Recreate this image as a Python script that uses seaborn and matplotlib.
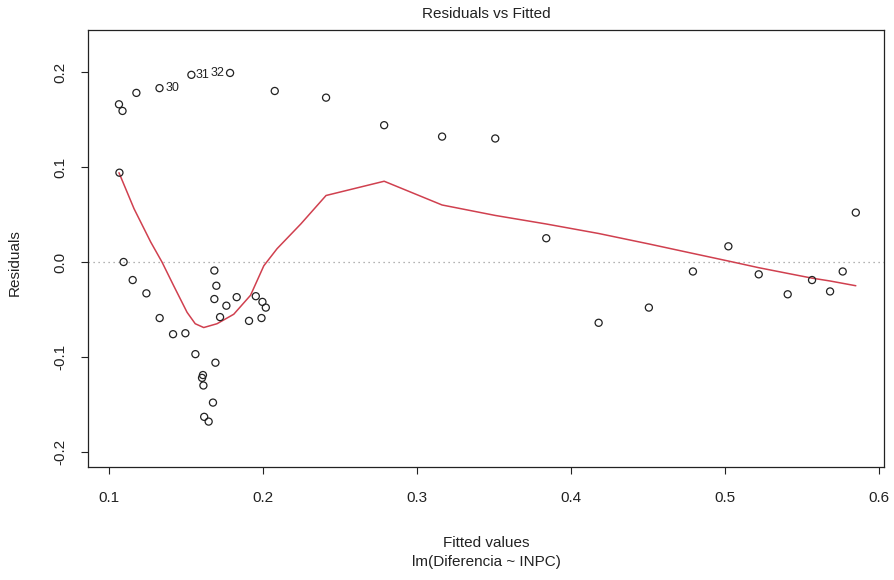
import matplotlib
matplotlib.use("Agg")
import matplotlib.pyplot as plt
import seaborn as sns
import numpy as np

# fitted values and residuals
fitted = [0.1067, 0.1070, 0.1090, 0.1097, 0.1156, 0.1180, 0.1245, 0.1331, 0.1330, 0.1418,
          0.1498, 0.1537, 0.1563, 0.1606, 0.1612, 0.1615, 0.1620, 0.1649, 0.1677, 0.1686,
          0.1686, 0.1693, 0.1699, 0.1723, 0.1764, 0.1788, 0.1831, 0.1911, 0.1955, 0.1992,
          0.1998, 0.2020, 0.2078, 0.2411, 0.2788, 0.3164, 0.3509, 0.3840, 0.4180, 0.4506,
          0.4792, 0.5022, 0.5219, 0.5407, 0.5565, 0.5682, 0.5764, 0.5849]
resid = [0.166, 0.094, 0.159, 0.000, -0.019, 0.178, -0.033, -0.059, 0.183, -0.076,
         -0.075, 0.197, -0.097, -0.122, -0.119, -0.130, -0.163, -0.168, -0.148, -0.009,
         -0.039, -0.106, -0.025, -0.058, -0.046, 0.199, -0.037, -0.062, -0.036, -0.059,
         -0.042, -0.048, 0.180, 0.173, 0.144, 0.132, 0.130, 0.025, -0.064, -0.048,
         -0.010, 0.0165, -0.013, -0.034, -0.019, -0.031, -0.010, 0.052]

# smoother (red line)
lowess_x = [0.1067, 0.1165, 0.1273, 0.1346, 0.1422, 0.1509, 0.1562, 0.1617, 0.1703, 0.1812,
            0.1921, 0.2007, 0.2093, 0.2247, 0.2411, 0.2788, 0.3164, 0.3509, 0.3840, 0.4180,
            0.4506, 0.4792, 0.5022, 0.5219, 0.5407, 0.5565, 0.5682, 0.5849]
lowess_y = [0.094, 0.056, 0.021, 0.000, -0.025, -0.053, -0.065, -0.069, -0.065, -0.055,
            -0.035, -0.004, 0.014, 0.040, 0.070, 0.085, 0.060, 0.049, 0.040, 0.030,
            0.019, 0.009, 0.001, -0.006, -0.012, -0.017, -0.020, -0.025]

# labelled observations: (index into fitted/resid, label, x offset pt, alignment)
id_points = [(8, "30", 4.5, "left"), (11, "31", 3.0, "left"), (25, "32", -4.0, "right")]

xticks = [0.1, 0.2, 0.3, 0.4, 0.5, 0.6]
yticks = [-0.2, -0.1, 0.0, 0.1, 0.2]
ytick_labels = ["-0.2", "-0.1", "0.0", "0.1", "0.2"]

sns.set_theme(style="ticks")
plt.rcParams['font.family'] = ['Liberation Sans', 'DejaVu Sans']
ink = "#222222"

W, H = 895, 580
fig = plt.figure(figsize=(W / 100, H / 100), dpi=100)
ax = fig.add_axes([88 / W, 1 - 467 / H, (884 - 88) / W, (467 - 30) / H])

ax.axhline(0, color="#9a9a9a", ls=(0, (1, 3)), lw=0.9, zorder=1)
sns.lineplot(x=lowess_x, y=lowess_y, sort=False, estimator=None, color="#d0404f",
             lw=1.1, ax=ax, zorder=2)
sns.scatterplot(x=fitted, y=resid, ax=ax, marker="o", s=26, facecolor="none",
                edgecolor=ink, linewidth=0.9, zorder=3)

for i, lab, dx, ha in id_points:
    ax.annotate(lab, (fitted[i], resid[i]), xytext=(dx, 0), textcoords="offset points",
                ha=ha, va="center", fontsize=9, color=ink)

ax.set_xlim(0.0866, 0.6032)
ax.set_ylim(-0.2158, 0.2442)
ax.set_xticks(xticks)
ax.set_xticklabels([f"{t:.1f}" for t in xticks])
ax.set_yticks(yticks)
ax.set_yticklabels(ytick_labels, rotation=90, va="center")
ax.tick_params(direction="out", length=5, width=0.8, color=ink, labelcolor=ink, labelsize=11)
ax.tick_params(axis="x", pad=12)
ax.tick_params(axis="y", pad=10)
for sp in ax.spines.values():
    sp.set_visible(True)
    sp.set_color(ink)
    sp.set_linewidth(0.9)
ax.set_xlabel("")
ax.set_ylabel("")

fig.text(486 / W, 1 - 14 / H, "Residuals vs Fitted", ha="center", va="center", fontsize=11, color=ink)
fig.text(486 / W, 1 - 543 / H, "Fitted values", ha="center", va="center", fontsize=11, color=ink)
fig.text(486 / W, 1 - 562 / H, "lm(Diferencia ~ INPC)", ha="center", va="center", fontsize=11, color=ink)
fig.text(15 / W, 1 - 263 / H, "Residuals", ha="center", va="center", rotation=90, fontsize=11, color=ink)

fig.savefig("out.png", dpi=100)
